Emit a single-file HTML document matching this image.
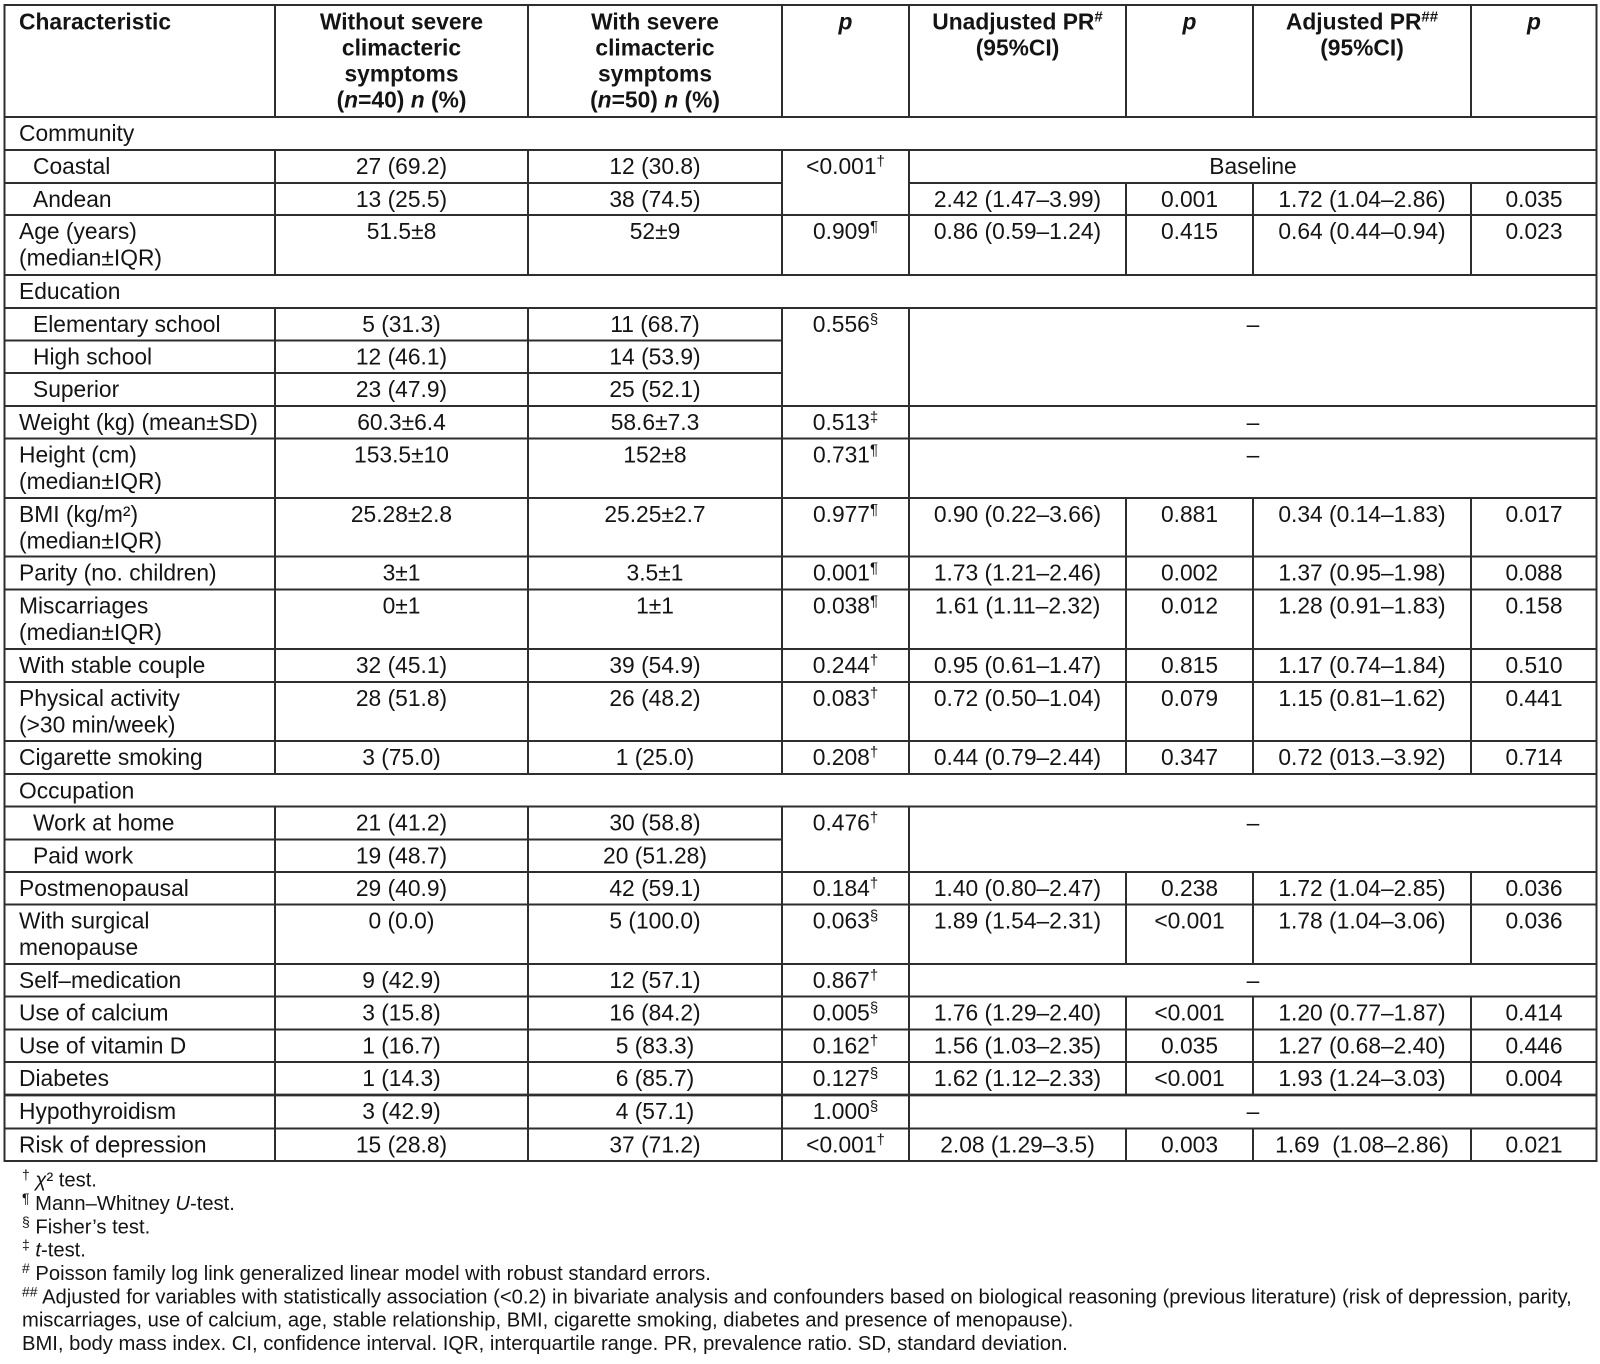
<!DOCTYPE html>
<html>
<head>
<meta charset="utf-8">
<style>
html,body{margin:0;padding:0;background:#fff;}
svg{display:block;}
text{font-family:"Liberation Sans",Arial,sans-serif;fill:#141414;}
.t{font-size:22.8px;}
.h{font-size:22.8px;font-weight:bold;}
.f{font-size:20.2px;}
.c{text-anchor:middle;}
</style>
</head>
<body>
<svg width="1600" height="1364" viewBox="0 0 1600 1364" xmlns="http://www.w3.org/2000/svg">
<rect x="0" y="0" width="1600" height="1364" fill="#fff"/>
<g stroke="#2e2e2e" stroke-width="2" fill="none">
<rect x="4.5" y="5" width="1592" height="1156"/>
<line x1="4.5" y1="117" x2="1597" y2="117"/>
<line x1="4.5" y1="150" x2="1597" y2="150"/>
<line x1="4.5" y1="183" x2="782" y2="183"/>
<line x1="909" y1="183" x2="1597" y2="183"/>
<line x1="4.5" y1="215" x2="1597" y2="215"/>
<line x1="4.5" y1="275" x2="1597" y2="275"/>
<line x1="4.5" y1="308" x2="1597" y2="308"/>
<line x1="4.5" y1="340.5" x2="782" y2="340.5"/>
<line x1="4.5" y1="373" x2="782" y2="373"/>
<line x1="4.5" y1="406" x2="1597" y2="406"/>
<line x1="4.5" y1="438.5" x2="1597" y2="438.5"/>
<line x1="4.5" y1="498" x2="1597" y2="498"/>
<line x1="4.5" y1="556.5" x2="1597" y2="556.5"/>
<line x1="4.5" y1="589.5" x2="1597" y2="589.5"/>
<line x1="4.5" y1="649" x2="1597" y2="649"/>
<line x1="4.5" y1="682" x2="1597" y2="682"/>
<line x1="4.5" y1="741" x2="1597" y2="741"/>
<line x1="4.5" y1="774" x2="1597" y2="774"/>
<line x1="4.5" y1="806.5" x2="1597" y2="806.5"/>
<line x1="4.5" y1="839.5" x2="782" y2="839.5"/>
<line x1="4.5" y1="872" x2="1597" y2="872"/>
<line x1="4.5" y1="904.5" x2="1597" y2="904.5"/>
<line x1="4.5" y1="964" x2="1597" y2="964"/>
<line x1="4.5" y1="996.5" x2="1597" y2="996.5"/>
<line x1="4.5" y1="1029.5" x2="1597" y2="1029.5"/>
<line x1="4.5" y1="1062" x2="1597" y2="1062"/>
<line x1="4.5" y1="1095" x2="1597" y2="1095" stroke-width="2.8"/>
<line x1="4.5" y1="1128.5" x2="1597" y2="1128.5"/>

<line x1="275" y1="5" x2="275" y2="117"/>
<line x1="528" y1="5" x2="528" y2="117"/>
<line x1="782" y1="5" x2="782" y2="117"/>
<line x1="909" y1="5" x2="909" y2="117"/>
<line x1="1126" y1="5" x2="1126" y2="117"/>
<line x1="1253" y1="5" x2="1253" y2="117"/>
<line x1="1471" y1="5" x2="1471" y2="117"/>

<line x1="275" y1="150" x2="275" y2="275"/>
<line x1="528" y1="150" x2="528" y2="275"/>
<line x1="782" y1="150" x2="782" y2="275"/>
<line x1="909" y1="150" x2="909" y2="275"/>
<line x1="1126" y1="183" x2="1126" y2="275"/>
<line x1="1253" y1="183" x2="1253" y2="275"/>
<line x1="1471" y1="183" x2="1471" y2="275"/>

<line x1="275" y1="308" x2="275" y2="774"/>
<line x1="528" y1="308" x2="528" y2="774"/>
<line x1="782" y1="308" x2="782" y2="774"/>
<line x1="909" y1="308" x2="909" y2="774"/>
<line x1="1126" y1="498" x2="1126" y2="774"/>
<line x1="1253" y1="498" x2="1253" y2="774"/>
<line x1="1471" y1="498" x2="1471" y2="774"/>

<line x1="275" y1="806.5" x2="275" y2="1161"/>
<line x1="528" y1="806.5" x2="528" y2="1161"/>
<line x1="782" y1="806.5" x2="782" y2="1161"/>
<line x1="909" y1="806.5" x2="909" y2="1161"/>
<line x1="1126" y1="872" x2="1126" y2="964"/>
<line x1="1253" y1="872" x2="1253" y2="964"/>
<line x1="1471" y1="872" x2="1471" y2="964"/>
<line x1="1126" y1="996.5" x2="1126" y2="1095"/>
<line x1="1253" y1="996.5" x2="1253" y2="1095"/>
<line x1="1471" y1="996.5" x2="1471" y2="1095"/>
<line x1="1126" y1="1128.5" x2="1126" y2="1161"/>
<line x1="1253" y1="1128.5" x2="1253" y2="1161"/>
<line x1="1471" y1="1128.5" x2="1471" y2="1161"/>
</g>

<g class="h">
<text class="h" x="19" y="29.3">Characteristic</text>
<text class="h c" x="401.5" y="29.3">Without severe</text>
<text class="h c" x="401.5" y="55.3">climacteric</text>
<text class="h c" x="401.5" y="81.3">symptoms</text>
<text class="h c" x="401.5" y="107.3">(<tspan font-style="italic">n</tspan>=40) <tspan font-style="italic">n</tspan> (%)</text>
<text class="h c" x="655" y="29.3">With severe</text>
<text class="h c" x="655" y="55.3">climacteric</text>
<text class="h c" x="655" y="81.3">symptoms</text>
<text class="h c" x="655" y="107.3">(<tspan font-style="italic">n</tspan>=50) <tspan font-style="italic">n</tspan> (%)</text>
<text class="h c" x="845.5" y="29.3" font-style="italic">p</text>
<text class="h c" x="1017.5" y="29.3">Unadjusted PR<tspan font-size="15" dy="-8">#</tspan></text>
<text class="h c" x="1017.5" y="55.3">(95%CI)</text>
<text class="h c" x="1189.5" y="29.3" font-style="italic">p</text>
<text class="h c" x="1362" y="29.3">Adjusted PR<tspan font-size="15" dy="-8">##</tspan></text>
<text class="h c" x="1362" y="55.3">(95%CI)</text>
<text class="h c" x="1534" y="29.3" font-style="italic">p</text>
</g>

<g class="t">
<text class="t" x="19" y="141">Community</text>
<text class="t" x="33" y="174">Coastal</text>
<text class="t" x="33" y="207">Andean</text>
<text class="t" x="19" y="239">Age (years)</text>
<text class="t" x="19" y="265.5">(median±IQR)</text>
<text class="t" x="19" y="299">Education</text>
<text class="t" x="33" y="332">Elementary school</text>
<text class="t" x="33" y="364.5">High school</text>
<text class="t" x="33" y="397">Superior</text>
<text class="t" x="19" y="430">Weight (kg) (mean±SD)</text>
<text class="t" x="19" y="462.5">Height (cm)</text>
<text class="t" x="19" y="489">(median±IQR)</text>
<text class="t" x="19" y="522">BMI (kg/m²)</text>
<text class="t" x="19" y="548.5">(median±IQR)</text>
<text class="t" x="19" y="580.5">Parity (no. children)</text>
<text class="t" x="19" y="613.5">Miscarriages</text>
<text class="t" x="19" y="640">(median±IQR)</text>
<text class="t" x="19" y="673">With stable couple</text>
<text class="t" x="19" y="706">Physical activity</text>
<text class="t" x="19" y="732.5">(&gt;30 min/week)</text>
<text class="t" x="19" y="765">Cigarette smoking</text>
<text class="t" x="19" y="798.5">Occupation</text>
<text class="t" x="33" y="830.5">Work at home</text>
<text class="t" x="33" y="863.5">Paid work</text>
<text class="t" x="19" y="896">Postmenopausal</text>
<text class="t" x="19" y="928.5">With surgical</text>
<text class="t" x="19" y="955">menopause</text>
<text class="t" x="19" y="988">Self–medication</text>
<text class="t" x="19" y="1020.5">Use of calcium</text>
<text class="t" x="19" y="1053.5">Use of vitamin D</text>
<text class="t" x="19" y="1086">Diabetes</text>
<text class="t" x="19" y="1119">Hypothyroidism</text>
<text class="t" x="19" y="1152.5">Risk of depression</text>
</g>

<g>
<text class="t c" x="401.5" y="174">27 (69.2)</text>
<text class="t c" x="655" y="174">12 (30.8)</text>
<text class="t c" x="845.5" y="174">&lt;0.001<tspan font-size="15" dy="-8">†</tspan></text>
<text class="t c" x="1253" y="174">Baseline</text>
<text class="t c" x="401.5" y="207">13 (25.5)</text>
<text class="t c" x="655" y="207">38 (74.5)</text>
<text class="t c" x="1017.5" y="207">2.42 (1.47–3.99)</text>
<text class="t c" x="1189.5" y="207">0.001</text>
<text class="t c" x="1362" y="207">1.72 (1.04–2.86)</text>
<text class="t c" x="1534" y="207">0.035</text>
<text class="t c" x="401.5" y="239">51.5±8</text>
<text class="t c" x="655" y="239">52±9</text>
<text class="t c" x="845.5" y="239">0.909<tspan font-size="15" dy="-8">¶</tspan></text>
<text class="t c" x="1017.5" y="239">0.86 (0.59–1.24)</text>
<text class="t c" x="1189.5" y="239">0.415</text>
<text class="t c" x="1362" y="239">0.64 (0.44–0.94)</text>
<text class="t c" x="1534" y="239">0.023</text>
<text class="t c" x="401.5" y="332">5 (31.3)</text>
<text class="t c" x="655" y="332">11 (68.7)</text>
<text class="t c" x="845.5" y="332">0.556<tspan font-size="15" dy="-8">§</tspan></text>
<text class="t c" x="1253" y="332">–</text>
<text class="t c" x="401.5" y="364.5">12 (46.1)</text>
<text class="t c" x="655" y="364.5">14 (53.9)</text>
<text class="t c" x="401.5" y="397">23 (47.9)</text>
<text class="t c" x="655" y="397">25 (52.1)</text>
<text class="t c" x="401.5" y="430">60.3±6.4</text>
<text class="t c" x="655" y="430">58.6±7.3</text>
<text class="t c" x="845.5" y="430">0.513<tspan font-size="15" dy="-8">‡</tspan></text>
<text class="t c" x="1253" y="430">–</text>
<text class="t c" x="401.5" y="462.5">153.5±10</text>
<text class="t c" x="655" y="462.5">152±8</text>
<text class="t c" x="845.5" y="462.5">0.731<tspan font-size="15" dy="-8">¶</tspan></text>
<text class="t c" x="1253" y="462.5">–</text>
<text class="t c" x="401.5" y="522">25.28±2.8</text>
<text class="t c" x="655" y="522">25.25±2.7</text>
<text class="t c" x="845.5" y="522">0.977<tspan font-size="15" dy="-8">¶</tspan></text>
<text class="t c" x="1017.5" y="522">0.90 (0.22–3.66)</text>
<text class="t c" x="1189.5" y="522">0.881</text>
<text class="t c" x="1362" y="522">0.34 (0.14–1.83)</text>
<text class="t c" x="1534" y="522">0.017</text>
<text class="t c" x="401.5" y="580.5">3±1</text>
<text class="t c" x="655" y="580.5">3.5±1</text>
<text class="t c" x="845.5" y="580.5">0.001<tspan font-size="15" dy="-8">¶</tspan></text>
<text class="t c" x="1017.5" y="580.5">1.73 (1.21–2.46)</text>
<text class="t c" x="1189.5" y="580.5">0.002</text>
<text class="t c" x="1362" y="580.5">1.37 (0.95–1.98)</text>
<text class="t c" x="1534" y="580.5">0.088</text>
<text class="t c" x="401.5" y="613.5">0±1</text>
<text class="t c" x="655" y="613.5">1±1</text>
<text class="t c" x="845.5" y="613.5">0.038<tspan font-size="15" dy="-8">¶</tspan></text>
<text class="t c" x="1017.5" y="613.5">1.61 (1.11–2.32)</text>
<text class="t c" x="1189.5" y="613.5">0.012</text>
<text class="t c" x="1362" y="613.5">1.28 (0.91–1.83)</text>
<text class="t c" x="1534" y="613.5">0.158</text>
<text class="t c" x="401.5" y="673">32 (45.1)</text>
<text class="t c" x="655" y="673">39 (54.9)</text>
<text class="t c" x="845.5" y="673">0.244<tspan font-size="15" dy="-8">†</tspan></text>
<text class="t c" x="1017.5" y="673">0.95 (0.61–1.47)</text>
<text class="t c" x="1189.5" y="673">0.815</text>
<text class="t c" x="1362" y="673">1.17 (0.74–1.84)</text>
<text class="t c" x="1534" y="673">0.510</text>
<text class="t c" x="401.5" y="706">28 (51.8)</text>
<text class="t c" x="655" y="706">26 (48.2)</text>
<text class="t c" x="845.5" y="706">0.083<tspan font-size="15" dy="-8">†</tspan></text>
<text class="t c" x="1017.5" y="706">0.72 (0.50–1.04)</text>
<text class="t c" x="1189.5" y="706">0.079</text>
<text class="t c" x="1362" y="706">1.15 (0.81–1.62)</text>
<text class="t c" x="1534" y="706">0.441</text>
<text class="t c" x="401.5" y="765">3 (75.0)</text>
<text class="t c" x="655" y="765">1 (25.0)</text>
<text class="t c" x="845.5" y="765">0.208<tspan font-size="15" dy="-8">†</tspan></text>
<text class="t c" x="1017.5" y="765">0.44 (0.79–2.44)</text>
<text class="t c" x="1189.5" y="765">0.347</text>
<text class="t c" x="1362" y="765">0.72 (013.–3.92)</text>
<text class="t c" x="1534" y="765">0.714</text>
<text class="t c" x="401.5" y="830.5">21 (41.2)</text>
<text class="t c" x="655" y="830.5">30 (58.8)</text>
<text class="t c" x="845.5" y="830.5">0.476<tspan font-size="15" dy="-8">†</tspan></text>
<text class="t c" x="1253" y="830.5">–</text>
<text class="t c" x="401.5" y="863.5">19 (48.7)</text>
<text class="t c" x="655" y="863.5">20 (51.28)</text>
<text class="t c" x="401.5" y="896">29 (40.9)</text>
<text class="t c" x="655" y="896">42 (59.1)</text>
<text class="t c" x="845.5" y="896">0.184<tspan font-size="15" dy="-8">†</tspan></text>
<text class="t c" x="1017.5" y="896">1.40 (0.80–2.47)</text>
<text class="t c" x="1189.5" y="896">0.238</text>
<text class="t c" x="1362" y="896">1.72 (1.04–2.85)</text>
<text class="t c" x="1534" y="896">0.036</text>
<text class="t c" x="401.5" y="928.5">0 (0.0)</text>
<text class="t c" x="655" y="928.5">5 (100.0)</text>
<text class="t c" x="845.5" y="928.5">0.063<tspan font-size="15" dy="-8">§</tspan></text>
<text class="t c" x="1017.5" y="928.5">1.89 (1.54–2.31)</text>
<text class="t c" x="1189.5" y="928.5">&lt;0.001</text>
<text class="t c" x="1362" y="928.5">1.78 (1.04–3.06)</text>
<text class="t c" x="1534" y="928.5">0.036</text>
<text class="t c" x="401.5" y="988">9 (42.9)</text>
<text class="t c" x="655" y="988">12 (57.1)</text>
<text class="t c" x="845.5" y="988">0.867<tspan font-size="15" dy="-8">†</tspan></text>
<text class="t c" x="1253" y="988">–</text>
<text class="t c" x="401.5" y="1020.5">3 (15.8)</text>
<text class="t c" x="655" y="1020.5">16 (84.2)</text>
<text class="t c" x="845.5" y="1020.5">0.005<tspan font-size="15" dy="-8">§</tspan></text>
<text class="t c" x="1017.5" y="1020.5">1.76 (1.29–2.40)</text>
<text class="t c" x="1189.5" y="1020.5">&lt;0.001</text>
<text class="t c" x="1362" y="1020.5">1.20 (0.77–1.87)</text>
<text class="t c" x="1534" y="1020.5">0.414</text>
<text class="t c" x="401.5" y="1053.5">1 (16.7)</text>
<text class="t c" x="655" y="1053.5">5 (83.3)</text>
<text class="t c" x="845.5" y="1053.5">0.162<tspan font-size="15" dy="-8">†</tspan></text>
<text class="t c" x="1017.5" y="1053.5">1.56 (1.03–2.35)</text>
<text class="t c" x="1189.5" y="1053.5">0.035</text>
<text class="t c" x="1362" y="1053.5">1.27 (0.68–2.40)</text>
<text class="t c" x="1534" y="1053.5">0.446</text>
<text class="t c" x="401.5" y="1086">1 (14.3)</text>
<text class="t c" x="655" y="1086">6 (85.7)</text>
<text class="t c" x="845.5" y="1086">0.127<tspan font-size="15" dy="-8">§</tspan></text>
<text class="t c" x="1017.5" y="1086">1.62 (1.12–2.33)</text>
<text class="t c" x="1189.5" y="1086">&lt;0.001</text>
<text class="t c" x="1362" y="1086">1.93 (1.24–3.03)</text>
<text class="t c" x="1534" y="1086">0.004</text>
<text class="t c" x="401.5" y="1119">3 (42.9)</text>
<text class="t c" x="655" y="1119">4 (57.1)</text>
<text class="t c" x="845.5" y="1119">1.000<tspan font-size="15" dy="-8">§</tspan></text>
<text class="t c" x="1253" y="1119">–</text>
<text class="t c" x="401.5" y="1152.5">15 (28.8)</text>
<text class="t c" x="655" y="1152.5">37 (71.2)</text>
<text class="t c" x="845.5" y="1152.5">&lt;0.001<tspan font-size="15" dy="-8">†</tspan></text>
<text class="t c" x="1017.5" y="1152.5">2.08 (1.29–3.5)</text>
<text class="t c" x="1189.5" y="1152.5">0.003</text>
<text class="t c" x="1362" y="1152.5">1.69&#160; (1.08–2.86)</text>
<text class="t c" x="1534" y="1152.5">0.021</text>
</g>

<g>
<text class="f" x="22" y="1186.7"><tspan font-size="14" dy="-7">†</tspan><tspan dy="7"> </tspan><tspan font-style="italic">χ</tspan>² test.</text>
<text class="f" x="22" y="1210"><tspan font-size="14" dy="-7">¶</tspan><tspan dy="7"> Mann–Whitney </tspan><tspan font-style="italic">U</tspan>-test.</text>
<text class="f" x="22" y="1233.3"><tspan font-size="14" dy="-7">§</tspan><tspan dy="7"> Fisher’s test.</tspan></text>
<text class="f" x="22" y="1256.7"><tspan font-size="14" dy="-7">‡</tspan><tspan dy="7"> </tspan><tspan font-style="italic">t</tspan>-test.</text>
<text class="f" x="22" y="1280"><tspan font-size="14" dy="-7">#</tspan><tspan dy="7"> Poisson family log link generalized linear model with robust standard errors.</tspan></text>
<text class="f" x="22" y="1303.3"><tspan font-size="14" dy="-7">##</tspan><tspan dy="7"> Adjusted for variables with statistically association (&lt;0.2) in bivariate analysis and confounders based on biological reasoning (previous literature) (risk of depression, parity,</tspan></text>
<text class="f" x="22" y="1326.7">miscarriages, use of calcium, age, stable relationship, BMI, cigarette smoking, diabetes and presence of menopause).</text>
<text class="f" x="22" y="1350">BMI, body mass index. CI, confidence interval. IQR, interquartile range. PR, prevalence ratio. SD, standard deviation.</text>
</g>
</svg>
</body>
</html>
